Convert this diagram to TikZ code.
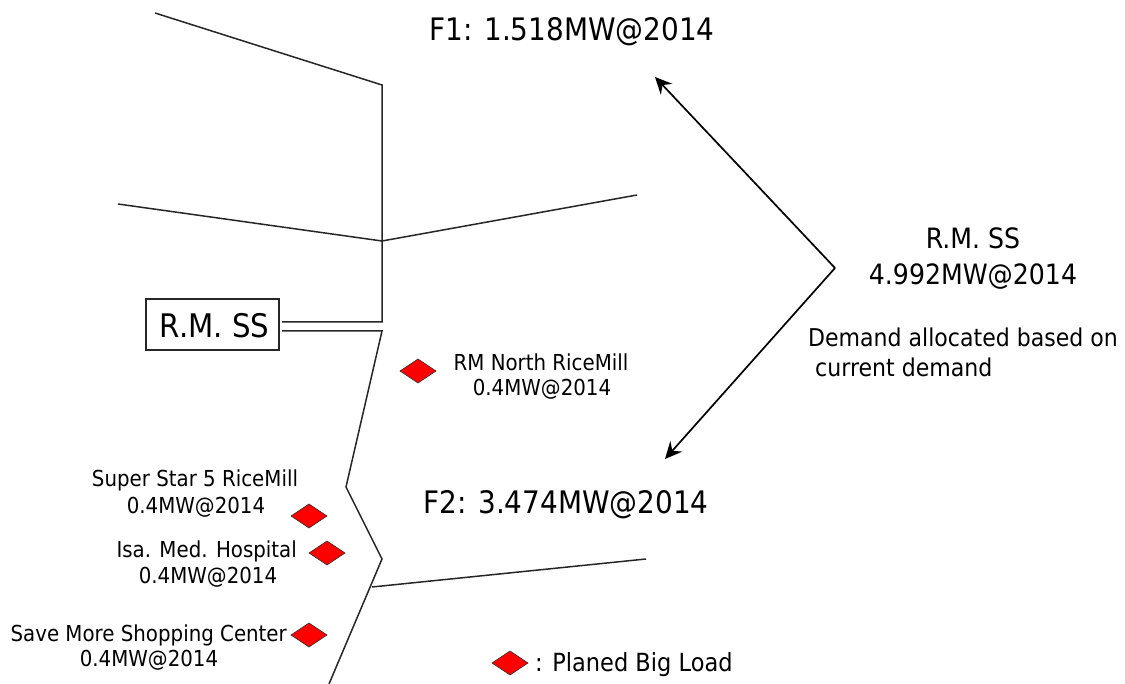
\documentclass[tikz,border=0pt]{standalone}
\usepackage{fontspec}
\setmainfont[FakeStretch=0.9]{DejaVu Sans}
\usetikzlibrary{arrows.meta}
\tikzset{
  wire/.style={draw=black!85, line width=1.5pt, line join=miter},
  arrowline/.style={draw=black, line width=1.7pt, -{Stealth[length=17pt,width=16pt,inset=6pt]}},
  load/.style={fill=red, draw=black!80, line width=0.6pt},
  big/.style={font=\fontsize{31}{36}\selectfont, align=center, inner sep=0pt},
  mid/.style={font=\fontsize{28}{36}\selectfont, align=center, inner sep=0pt},
  small/.style={font=\fontsize{22}{28}\selectfont, align=center, inner sep=0pt},
  label/.style={font=\fontsize{24.5}{30}\selectfont, align=left, inner sep=0pt},
}
\newcommand{\loadmark}[3]{\path[load] (#2-18,#3) coordinate (#1) -- (#2,#3-12) -- (#2+18,#3) -- (#2,#3+12) -- cycle;}
\begin{document}
\begin{tikzpicture}[x=1pt,y=-1pt]
\useasboundingbox (0,0) rectangle (1125,684);
\coordinate (a1) at (155,13); \coordinate (a2) at (382,85); \coordinate (a3) at (382,322);
\coordinate (b2) at (382,331); \coordinate (b3) at (346,487); \coordinate (b4) at (382,559); \coordinate (b5) at (329,684);
\coordinate (c1) at (118,204); \coordinate (c2) at (382,241); \coordinate (c3) at (637,195);
\coordinate (d1) at (372,587); \coordinate (d2) at (646,559);
\coordinate (hub) at (835,268); \coordinate (up) at (655,77); \coordinate (dn) at (665,459);
\coordinate (s1) at (282,322); \coordinate (s2) at (282,331);
\node[draw=black!85, line width=1.1pt, minimum width=133pt, minimum height=51pt, inner sep=0pt] (ss) at (212.5,324.5) {};
\node[font=\fontsize{32.5}{36}\selectfont, inner sep=0pt] (sstext) at (214.5,325.5) {R.M. SS};
\draw[wire] (a1) -- (a2) -- (a3) -- (s1);
\draw[wire] (s2) -- (b2) -- (b3) -- (b4) -- (b5);
\draw[wire] (c1) -- (c2) -- (c3);
\draw[wire] (d1) -- (d2);
\draw[arrowline] (hub) -- (up);
\draw[arrowline] (hub) -- (dn);
\loadmark{m1}{418}{371}
\loadmark{m2}{309}{516}
\loadmark{m3}{327}{553}
\loadmark{m4}{309}{635}
\loadmark{m5}{510}{663}
\node[big] (f1) at (572,31.5) {F1: 1.518MW@2014};
\node[big] (f2) at (566,504.5) {F2: 3.474MW@2014};
\node[mid] (rm) at (973,258.5) {R.M. SS\\4.992MW@2014};
\node[label,anchor=west] (dem) at (808,352) {Demand allocated based on\\ \ current demand};
\node[small] (t1a) at (541,362) {RM North RiceMill};
\node[small] (t1b) at (542,389) {0.4MW@2014};
\node[small] (t2a) at (195,480) {Super Star 5 RiceMill};
\node[small] (t2b) at (196,507) {0.4MW@2014};
\node[small,anchor=east] (t3a) at (297,551) {Isa. Med. Hospital};
\node[small] (t3b) at (208,577) {0.4MW@2014};
\node[small,anchor=east] (t4a) at (287,635) {Save More Shopping Center};
\node[small] (t4b) at (149,660) {0.4MW@2014};
\node[font=\fontsize{25}{28}\selectfont, anchor=west, inner sep=0pt] (lg) at (535,665) {: Planed Big Load};
\end{tikzpicture}
\end{document}
